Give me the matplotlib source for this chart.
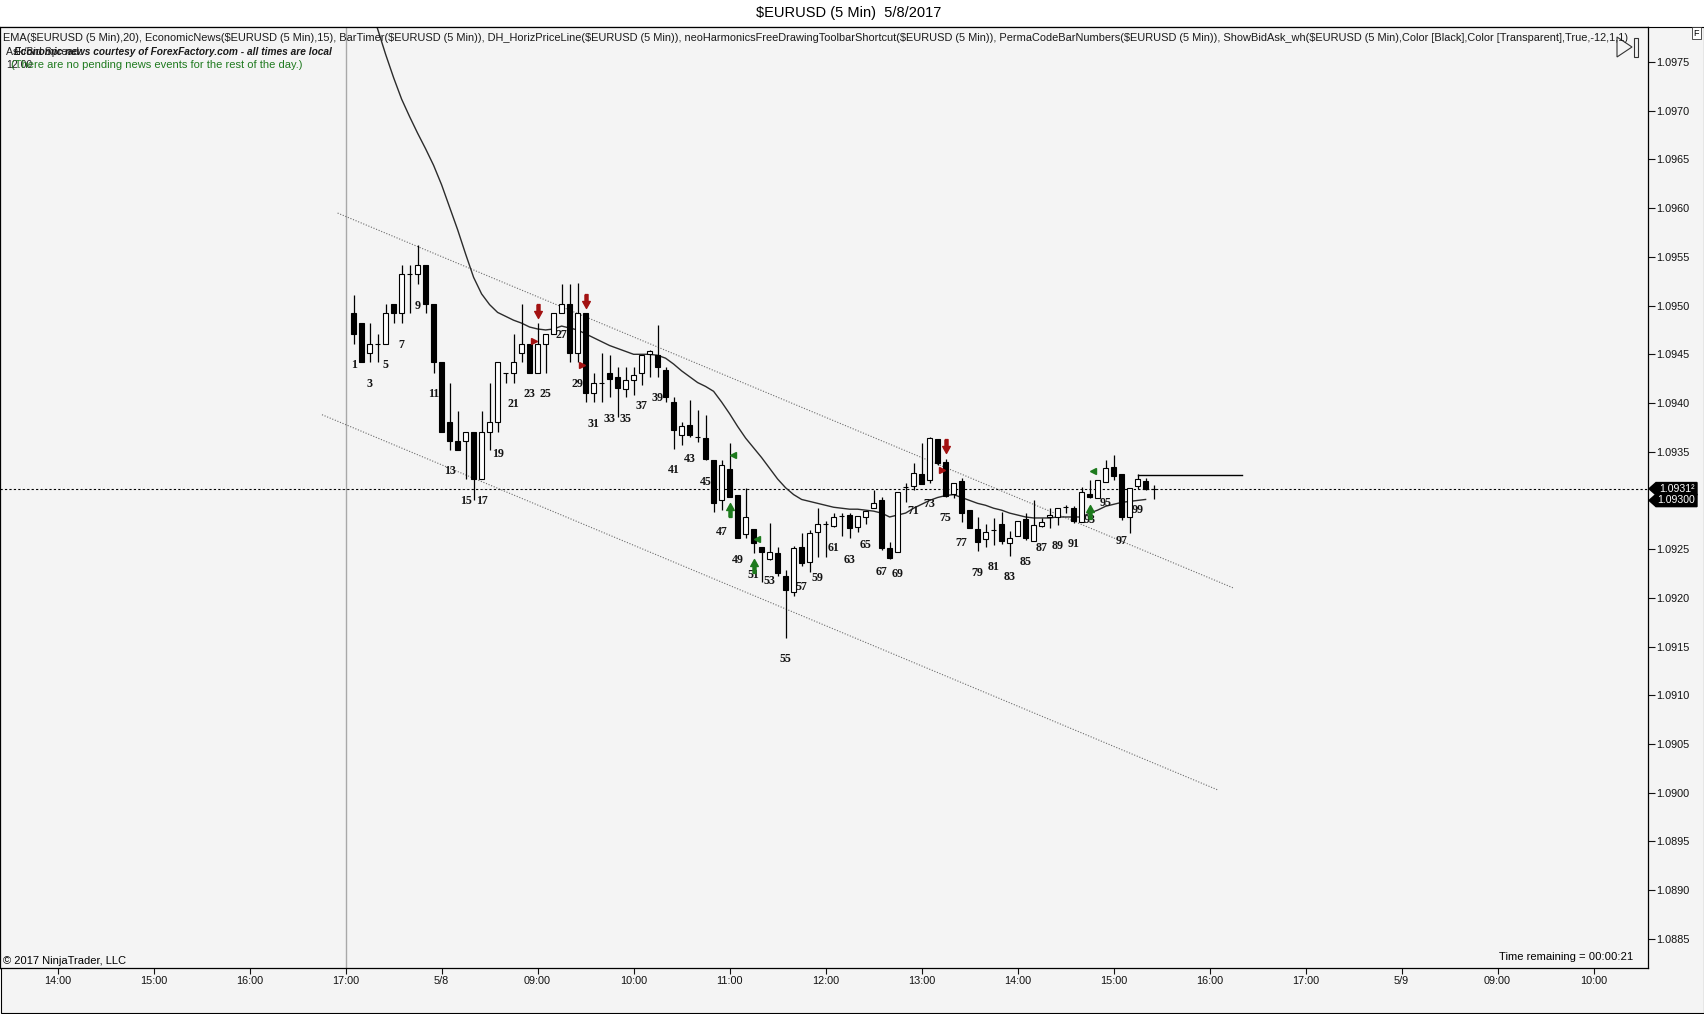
import numpy as np
import matplotlib.pyplot as plt
from matplotlib.patches import Rectangle, Polygon
from matplotlib.transforms import offset_copy, blended_transform_factory

plt.rcParams['font.family'] = ['Liberation Sans', 'DejaVu Sans']

# 5 min bars of the session, bar 1 .. 101
opens = [1.09492, 1.09482, 1.09451, 1.09461, 1.09461, 1.09502, 1.09492, 1.09532, 1.09532, 1.09542,
         1.09502, 1.09442, 1.09381, 1.09361, 1.09361, 1.09370, 1.09322, 1.09370, 1.09381, 1.09431,
         1.09431, 1.09451, 1.09461, 1.09431, 1.09461, 1.09471, 1.09492, 1.09502, 1.09451, 1.09492,
         1.09410, 1.09421, 1.09431, 1.09427, 1.09414, 1.09424, 1.09431, 1.09450, 1.09449, 1.09434,
         1.09401, 1.09367, 1.09377, 1.09365, 1.09364, 1.09342, 1.09300, 1.09332, 1.09306, 1.09266,
         1.09271, 1.09252, 1.09240, 1.09246, 1.09222, 1.09206, 1.09252, 1.09237, 1.09268, 1.09276,
         1.09274, 1.09284, 1.09285, 1.09273, 1.09283, 1.09292, 1.09300, 1.09251, 1.09247, 1.09314,
         1.09315, 1.09327, 1.09321, 1.09363, 1.09339, 1.09307, 1.09320, 1.09290, 1.09271, 1.09260,
         1.09270, 1.09276, 1.09256, 1.09263, 1.09281, 1.09258, 1.09274, 1.09283, 1.09283, 1.09293,
         1.09292, 1.09278, 1.09307, 1.09302, 1.09319, 1.09334, 1.09327, 1.09283, 1.09315, 1.09320,
         1.09312]
highs = [1.09511, 1.09482, 1.09482, 1.09471, 1.09502, 1.09502, 1.09542, 1.09542, 1.09562, 1.09542,
         1.09502, 1.09442, 1.09421, 1.09392, 1.09370, 1.09370, 1.09392, 1.09421, 1.09442, 1.09431,
         1.09471, 1.09502, 1.09461, 1.09482, 1.09471, 1.09492, 1.09522, 1.09522, 1.09523, 1.09492,
         1.09431, 1.09451, 1.09449, 1.09437, 1.09437, 1.09437, 1.09449, 1.09454, 1.09480, 1.09437,
         1.09406, 1.09380, 1.09403, 1.09393, 1.09388, 1.09342, 1.09342, 1.09359, 1.09306, 1.09313,
         1.09271, 1.09252, 1.09277, 1.09252, 1.09229, 1.09253, 1.09267, 1.09270, 1.09292, 1.09279,
         1.09287, 1.09287, 1.09287, 1.09284, 1.09289, 1.09311, 1.09304, 1.09257, 1.09309, 1.09318,
         1.09338, 1.09359, 1.09365, 1.09363, 1.09343, 1.09318, 1.09323, 1.09290, 1.09283, 1.09276,
         1.09282, 1.09288, 1.09269, 1.09279, 1.09287, 1.09300, 1.09282, 1.09292, 1.09292, 1.09295,
         1.09294, 1.09314, 1.09321, 1.09321, 1.09342, 1.09347, 1.09327, 1.09313, 1.09327, 1.09323,
         1.09316]
lows = [1.09461, 1.09442, 1.09442, 1.09442, 1.09461, 1.09482, 1.09482, 1.09492, 1.09522, 1.09492,
        1.09431, 1.09370, 1.09352, 1.09352, 1.09322, 1.09300, 1.09322, 1.09352, 1.09370, 1.09421,
        1.09421, 1.09442, 1.09431, 1.09431, 1.09431, 1.09471, 1.09492, 1.09442, 1.09442, 1.09401,
        1.09401, 1.09401, 1.09406, 1.09386, 1.09406, 1.09408, 1.09419, 1.09427, 1.09427, 1.09401,
        1.09353, 1.09357, 1.09365, 1.09360, 1.09341, 1.09288, 1.09290, 1.09304, 1.09261, 1.09261,
        1.09246, 1.09216, 1.09239, 1.09222, 1.09159, 1.09202, 1.09233, 1.09227, 1.09242, 1.09242,
        1.09273, 1.09263, 1.09261, 1.09268, 1.09276, 1.09292, 1.09249, 1.09240, 1.09247, 1.09298,
        1.09311, 1.09317, 1.09318, 1.09336, 1.09304, 1.09303, 1.09278, 1.09272, 1.09248, 1.09252,
        1.09254, 1.09255, 1.09243, 1.09263, 1.09259, 1.09258, 1.09273, 1.09272, 1.09275, 1.09287,
        1.09277, 1.09278, 1.09302, 1.09302, 1.09319, 1.09321, 1.09280, 1.09267, 1.09312, 1.09311,
        1.09301]
closes = [1.09471, 1.09442, 1.09461, 1.09461, 1.09492, 1.09492, 1.09532, 1.09532, 1.09542, 1.09502,
          1.09442, 1.09370, 1.09361, 1.09352, 1.09370, 1.09322, 1.09370, 1.09381, 1.09442, 1.09431,
          1.09442, 1.09461, 1.09431, 1.09461, 1.09471, 1.09492, 1.09502, 1.09451, 1.09492, 1.09410,
          1.09421, 1.09421, 1.09425, 1.09415, 1.09424, 1.09429, 1.09449, 1.09453, 1.09437, 1.09406,
          1.09372, 1.09376, 1.09367, 1.09365, 1.09343, 1.09297, 1.09336, 1.09304, 1.09261, 1.09283,
          1.09256, 1.09247, 1.09247, 1.09225, 1.09208, 1.09251, 1.09236, 1.09267, 1.09276, 1.09276,
          1.09283, 1.09284, 1.09272, 1.09284, 1.09289, 1.09297, 1.09251, 1.09241, 1.09309, 1.09314,
          1.09328, 1.09317, 1.09364, 1.09338, 1.09305, 1.09318, 1.09287, 1.09272, 1.09257, 1.09268,
          1.09270, 1.09258, 1.09261, 1.09279, 1.09261, 1.09275, 1.09278, 1.09285, 1.09292, 1.09293,
          1.09279, 1.09309, 1.09304, 1.09321, 1.09333, 1.09325, 1.09283, 1.09313, 1.09322, 1.09312,
          1.09312]

# EMA(20), bars 1 .. 100 (first values run above the visible range)
ema20 = [1.09861, 1.09835, 1.09810, 1.09784, 1.09758, 1.09734, 1.09712, 1.09694, 1.09677, 1.09661,
         1.09644, 1.09624, 1.09601, 1.09578, 1.09553, 1.09529, 1.09512, 1.09501, 1.09493, 1.09489,
         1.09485, 1.09482, 1.09478, 1.09476, 1.09475, 1.09476, 1.09479, 1.09477, 1.09475, 1.09471,
         1.09467, 1.09463, 1.09459, 1.09456, 1.09453, 1.09450, 1.09450, 1.09450, 1.09449, 1.09446,
         1.09440, 1.09433, 1.09427, 1.09421, 1.09417, 1.09412, 1.09401, 1.09389, 1.09376, 1.09364,
         1.09354, 1.09344, 1.09333, 1.09322, 1.09313, 1.09306, 1.09301, 1.09299, 1.09297, 1.09295,
         1.09293, 1.09292, 1.09291, 1.09291, 1.09290, 1.09289, 1.09287, 1.09283, 1.09285, 1.09287,
         1.09292, 1.09296, 1.09300, 1.09303, 1.09305, 1.09306, 1.09303, 1.09300, 1.09297, 1.09295,
         1.09292, 1.09290, 1.09287, 1.09285, 1.09283, 1.09282, 1.09282, 1.09282, 1.09283, 1.09283,
         1.09283, 1.09283, 1.09287, 1.09290, 1.09294, 1.09296, 1.09298, 1.09299, 1.09300, 1.09301]

# drawn trend channel (bar index, price)
upper_x = [-1.0, 111.0]
upper_y = [1.09595, 1.09210]
lower_x = [-2.95, 108.96]
lower_y = [1.09388, 1.09003]

# signal markers
sell_bars = [24, 30, 75]
buy_bars = [48, 51, 93]
sell_tri_prices = [1.09464, 1.09439, 1.09331]
buy_tri_prices = [1.09347, 1.09260, 1.09330]

last_price = 1.09312
bid_price = 1.09300
hline_price = 1.09326
hline_bars = [99, 112]

x_tick_labels = ['14:00', '15:00', '16:00', '17:00', '5/8', '09:00', '10:00', '11:00', '12:00',
                 '13:00', '14:00', '15:00', '16:00', '17:00', '5/9', '09:00', '10:00']
y_tick_labels = ['1.0975', '1.0970', '1.0965', '1.0960', '1.0955', '1.0950', '1.0945', '1.0940',
                 '1.0935', '1.0930', '1.0925', '1.0920', '1.0915', '1.0910', '1.0905', '1.0900',
                 '1.0895', '1.0890', '1.0885']

W, H = 1704, 1014
BG = '#f4f4f4'


def fx(px):
    return px / W


def fy(py):
    return 1 - py / H


fig = plt.figure(figsize=(W / 100, H / 100), dpi=100, facecolor='white')
frame = Rectangle((fx(0.5), fy(1013)), fx(1703), (1013 - 27) / H, transform=fig.transFigure,
                  facecolor=BG, edgecolor='black', lw=0.8, zorder=-1)
fig.add_artist(frame)

ax = fig.add_axes([0, fy(968), fx(1648), (968 - 27) / H])
ax.set_facecolor(BG)
ax.set_xlim(-43.2, 162.8)
ax.set_ylim(1.08820, 1.09786)
for s in ax.spines.values():
    s.set_linewidth(0.9)

o = np.array(opens)
h = np.array(highs)
l = np.array(lows)
c = np.array(closes)
bars = np.arange(1, len(o) + 1)
up = c >= o

# session break and current price
ax.axvline(0, color='#a8a8a8', lw=1.0, zorder=1)
ax.axhline(last_price, color='black', lw=0.8, ls=(0, (2, 2)), zorder=1)

# channel
ax.plot(upper_x, upper_y, color='#6a6a6a', lw=0.8, ls=(0, (1, 1.5)), zorder=1)
ax.plot(lower_x, lower_y, color='#6a6a6a', lw=0.8, ls=(0, (1, 1.5)), zorder=1)

# EMA
ax.plot(bars[:len(ema20)], ema20, color='#2b2b2b', lw=1.0, zorder=2)

# candles
ax.vlines(bars, l, h, color='black', lw=0.9, zorder=3)
ax.bar(bars, np.abs(c - o), bottom=np.minimum(o, c), width=0.55,
       color=np.where(up, 'white', 'black'), edgecolor='black', lw=0.8, zorder=4)

# horizontal price line
ax.plot(hline_bars, [hline_price, hline_price], color='black', lw=1.0, zorder=3)

# bar numbers
for b in bars:
    if b % 2 == 1 and b < 100:
        ax.annotate(str(b), (b, l[b - 1]), xytext=(0, -15.5), textcoords='offset points',
                    ha='center', va='center', fontsize=8.6, fontweight='bold',
                    family='Liberation Serif', color='#141414', zorder=5)

# arrows
down_arrow = [(-0.22, 1), (0.22, 1), (0.22, 0), (0.55, 0), (0, -1), (-0.55, 0), (-0.22, 0), (-0.22, 1)]
up_arrow = [(x, -y) for x, y in down_arrow]
above = offset_copy(ax.transData, fig=fig, y=9, units='points')
below = offset_copy(ax.transData, fig=fig, y=-9.5, units='points')
ax.plot(sell_bars, [h[b - 1] for b in sell_bars], ls='none', marker=down_arrow, ms=10,
        color='#a31212', mec='#a31212', transform=above, zorder=6)
ax.plot(buy_bars, [l[b - 1] for b in buy_bars], ls='none', marker=up_arrow, ms=10,
        color='#1d7a1d', mec='#1d7a1d', transform=below, zorder=6)
ax.plot(np.array(sell_bars) - 0.4, sell_tri_prices, ls='none', marker='>', ms=5,
        color='#a31212', zorder=6)
ax.plot(np.array(buy_bars) + 0.4, buy_tri_prices, ls='none', marker='<', ms=5,
        color='#1d7a1d', zorder=6)

# axes ticks
ax.yaxis.tick_right()
ax.set_yticks([float(v) for v in y_tick_labels], y_tick_labels)
ax.tick_params(axis='y', direction='out', length=5, width=0.8, pad=1, labelsize=7.8, colors='#111111')
ax.set_xticks([-36 + 12 * i for i in range(len(x_tick_labels))], x_tick_labels)
ax.tick_params(axis='x', direction='out', length=4, width=0.8, pad=2, labelsize=7.8, colors='#111111')

# bid / ask tags on the price axis
pp = (968 - 27) / (1.09786 - 1.08820)
hh = 6.2 / pp
tr = blended_transform_factory(ax.transAxes, ax.transData)
for price, txt in [(last_price, '1.0931\u00b2'), (bid_price, '1.09300')]:
    x0, x1, x2 = 1649 / 1648, 1656 / 1648, 1697 / 1648
    tag = Polygon([(x0, price), (x1, price + hh), (x2, price + hh), (x2, price - hh), (x1, price - hh)],
                  closed=True, transform=tr, facecolor='black', edgecolor='black', clip_on=False, zorder=10)
    ax.add_patch(tag)
    ax.text(1676.5 / 1648, price, txt, transform=tr, ha='center', va='center', color='white',
            fontsize=7.6, clip_on=False, zorder=11)

# texts
fig.text(fx(849), fy(13), '$EURUSD (5 Min)  5/8/2017', ha='center', va='center', fontsize=10.5,
         parse_math=False)
legend = fig.text(fx(3), fy(38), 'EMA($EURUSD (5 Min),20), EconomicNews($EURUSD (5 Min),15), '
                  'BarTimer($EURUSD (5 Min)), DH_HorizPriceLine($EURUSD (5 Min)), '
                  'neoHarmonicsFreeDrawingToolbarShortcut($EURUSD (5 Min)), '
                  'PermaCodeBarNumbers($EURUSD (5 Min)), ShowBidAsk_wh($EURUSD (5 Min),Color [Black],'
                  'Color [Transparent],True,-12,1,1)', ha='left', va='center', fontsize=8,
                  color='#1a1a1a', parse_math=False)
t_spread = fig.text(fx(6), fy(52), 'Ask/Bid Spread:', ha='left', va='center', fontsize=7.6, color='#222222')
t_news = fig.text(fx(14), fy(52), 'Economic news courtesy of ForexFactory.com - all times are local',
                  ha='left', va='center', fontsize=7.2, style='italic', fontweight='bold', color='#1a1a1a')
fig.text(fx(6), fy(64.5), '12.00', ha='left', va='center', fontsize=7.6, color='#222222')
t_green = fig.text(fx(11), fy(64.5), '(There are no pending news events for the rest of the day.)',
                   ha='left', va='center', fontsize=7.6, color='#1f7a1f')
t_copy = fig.text(fx(3), fy(961), '\u00a9 2017 NinjaTrader, LLC', ha='left', va='center', fontsize=7.8)
t_time = fig.text(fx(1633), fy(957), 'Time remaining = 00:00:21', ha='right', va='center', fontsize=7.8)

# fit widths of the long text lines
fig.canvas.draw()
rend = fig.canvas.get_renderer()
for t, target in [(legend, 1625), (t_news, 320), (t_green, 290), (t_copy, 124), (t_time, 135)]:
    w = t.get_window_extent(rend).width
    t.set_fontsize(t.get_fontsize() * target / w)

# play icon and F box
fig.add_artist(Polygon([(fx(1617), fy(37)), (fx(1617), fy(57)), (fx(1632), fy(47))], closed=True,
                       transform=fig.transFigure, facecolor=BG, edgecolor='#333333', lw=0.8))
fig.add_artist(Rectangle((fx(1634), fy(57)), fx(3.5), 19 / H, transform=fig.transFigure,
                         facecolor=BG, edgecolor='#333333', lw=0.8))
fig.text(fx(1696.5), fy(33), 'F', ha='center', va='center', fontsize=6.5,
         bbox=dict(boxstyle='square,pad=0.15', facecolor='white', edgecolor='#333333', lw=0.6))

fig.savefig('out.png', dpi=100, facecolor=fig.get_facecolor())
